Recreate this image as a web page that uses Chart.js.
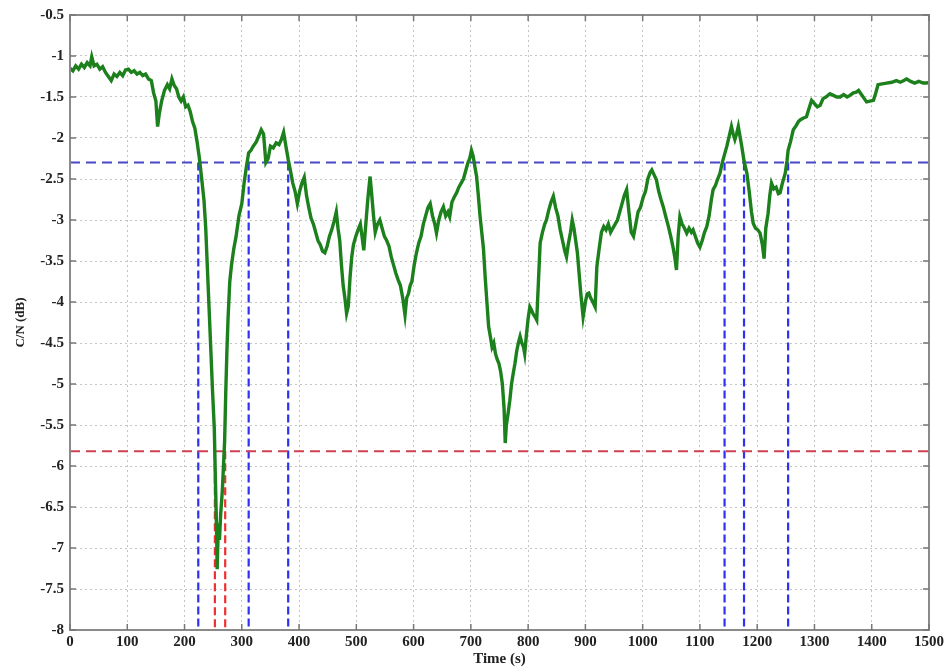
<!DOCTYPE html>
<html><head><meta charset="utf-8">
<script src="https://cdn.jsdelivr.net/npm/chart.js@4/dist/chart.umd.min.js"></script>
<style>html,body{margin:0;padding:0;background:#fff}#wrap{width:949px;height:668px;position:relative}</style>
</head><body><div id="wrap"><canvas id="c"></canvas></div>
<script>
const timeS = [0,5,10,15,20,25,30,35,38,42,47,52,57,62,67,72,77,82,87,92,97,102,107,112,117,122,127,132,137,142,146,150,153,156,160,165,170,174,178,182,186,190,194,198,202,206,210,214,218,222,226,230,234,237,240,243,246,249,252,254,256,257,259,261,263,266,268,270,272,274,276,279,282,286,290,295,300,304,308,312,316,320,325,330,334,338,342,346,350,355,360,365,369,373,377,381,385,389,393,397,401,405,409,413,417,421,425,429,433,437,441,445,449,453,457,461,465,468,471,474,477,480,483,486,489,492,495,499,503,507,510,513,516,520,524,527,530,533,537,541,545,549,553,557,561,565,569,573,577,581,585,588,591,594,597,601,605,609,613,617,621,625,629,633,637,640,644,648,652,656,660,663,667,671,675,679,683,687,691,695,698,701,704,707,710,713,716,719,722,725,728,731,734,737,740,743,746,749,752,755,758,760,762,765,768,771,774,777,780,783,786,789,792,794,797,800,803,806,809,812,815,818,821,825,829,832,836,840,844,848,852,856,860,864,867,870,874,877,880,883,886,889,892,896,900,903,906,909,913,917,920,924,928,932,936,940,944,948,952,956,960,964,968,972,976,980,984,988,992,996,1001,1005,1009,1013,1016,1020,1024,1028,1032,1036,1040,1045,1049,1053,1056,1059,1062,1065,1069,1073,1077,1081,1085,1088,1092,1096,1100,1104,1108,1112,1116,1120,1123,1127,1131,1135,1139,1143,1147,1151,1155,1158,1161,1164,1167,1170,1173,1177,1182,1186,1190,1193,1197,1201,1205,1209,1212,1215,1219,1222,1225,1229,1233,1237,1240,1244,1249,1252,1254,1258,1263,1268,1272,1275,1280,1286,1290,1295,1300,1305,1310,1315,1320,1327,1333,1339,1345,1351,1357,1362,1368,1373,1377,1382,1387,1391,1397,1403,1407,1411,1418,1426,1435,1443,1450,1456,1461,1468,1475,1482,1490,1496,1500];
const cnDb = [-1.15,-1.18,-1.12,-1.16,-1.10,-1.14,-1.08,-1.12,-1.01,-1.12,-1.10,-1.16,-1.13,-1.20,-1.25,-1.30,-1.22,-1.25,-1.20,-1.24,-1.17,-1.16,-1.20,-1.18,-1.22,-1.20,-1.24,-1.22,-1.28,-1.30,-1.45,-1.55,-1.86,-1.70,-1.55,-1.42,-1.35,-1.40,-1.28,-1.36,-1.40,-1.50,-1.55,-1.50,-1.62,-1.60,-1.68,-1.80,-1.88,-2.05,-2.25,-2.50,-2.76,-3.10,-3.60,-4.10,-4.60,-5.10,-5.55,-6.20,-6.80,-7.26,-6.70,-6.90,-6.60,-6.30,-6.00,-5.70,-5.10,-4.60,-4.20,-3.75,-3.55,-3.35,-3.20,-2.95,-2.80,-2.55,-2.35,-2.18,-2.15,-2.10,-2.05,-1.97,-1.90,-1.95,-2.30,-2.25,-2.10,-2.12,-2.06,-2.08,-2.02,-1.93,-2.10,-2.26,-2.40,-2.55,-2.65,-2.80,-2.65,-2.55,-2.48,-2.70,-2.85,-2.98,-3.05,-3.15,-3.25,-3.30,-3.38,-3.40,-3.32,-3.20,-3.12,-3.02,-2.90,-3.10,-3.25,-3.55,-3.80,-3.95,-4.14,-4.05,-3.70,-3.45,-3.30,-3.20,-3.12,-3.05,-3.20,-3.37,-3.10,-2.75,-2.47,-2.70,-2.95,-3.15,-3.05,-3.00,-3.10,-3.20,-3.25,-3.32,-3.45,-3.55,-3.65,-3.73,-3.80,-3.95,-4.16,-3.95,-3.90,-3.80,-3.75,-3.55,-3.40,-3.28,-3.20,-3.05,-2.95,-2.85,-2.80,-2.95,-3.05,-3.16,-3.00,-2.90,-2.84,-2.95,-2.90,-2.96,-2.78,-2.72,-2.67,-2.60,-2.55,-2.50,-2.40,-2.30,-2.25,-2.15,-2.22,-2.35,-2.47,-2.70,-2.95,-3.15,-3.35,-3.70,-4.00,-4.30,-4.42,-4.55,-4.50,-4.63,-4.70,-4.75,-4.85,-5.00,-5.30,-5.72,-5.50,-5.36,-5.20,-5.00,-4.87,-4.75,-4.60,-4.50,-4.42,-4.50,-4.55,-4.63,-4.40,-4.20,-4.06,-4.10,-4.15,-4.18,-4.22,-3.75,-3.28,-3.15,-3.05,-3.00,-2.88,-2.78,-2.71,-2.85,-2.95,-3.12,-3.25,-3.38,-3.45,-3.30,-3.15,-3.00,-3.10,-3.25,-3.40,-3.65,-3.90,-4.18,-4.00,-3.90,-3.89,-3.95,-4.00,-4.06,-3.57,-3.35,-3.15,-3.08,-3.12,-3.05,-3.15,-3.10,-3.05,-3.00,-2.90,-2.80,-2.70,-2.63,-2.90,-3.15,-3.20,-3.05,-2.90,-2.85,-2.72,-2.65,-2.50,-2.42,-2.39,-2.45,-2.51,-2.65,-2.75,-2.84,-2.95,-3.08,-3.20,-3.33,-3.45,-3.61,-3.20,-2.96,-3.05,-3.10,-3.16,-3.10,-3.15,-3.12,-3.20,-3.28,-3.33,-3.25,-3.15,-3.08,-2.95,-2.75,-2.63,-2.58,-2.50,-2.43,-2.30,-2.20,-2.10,-1.98,-1.86,-1.95,-2.02,-1.95,-1.86,-1.98,-2.10,-2.28,-2.43,-2.65,-2.90,-3.04,-3.10,-3.12,-3.16,-3.30,-3.47,-3.10,-2.92,-2.70,-2.55,-2.62,-2.60,-2.68,-2.67,-2.55,-2.43,-2.28,-2.15,-2.05,-1.90,-1.85,-1.80,-1.78,-1.76,-1.74,-1.65,-1.54,-1.58,-1.62,-1.60,-1.52,-1.50,-1.46,-1.48,-1.50,-1.50,-1.47,-1.50,-1.48,-1.45,-1.44,-1.42,-1.47,-1.52,-1.56,-1.55,-1.54,-1.45,-1.35,-1.34,-1.33,-1.32,-1.30,-1.32,-1.30,-1.28,-1.31,-1.33,-1.31,-1.33,-1.33,-1.32];
const blueThreshold = -2.3;
const redThreshold = -5.82;
const blueCrossings = [224, 312, 381, 1143, 1177, 1254];
const redCrossings = [253, 271];
const xRange = [0, 1500];
const yRange = [-8, -0.5];

const datasets = [];
datasets.push({data: [{x:xRange[0],y:blueThreshold},{x:xRange[1],y:blueThreshold}], borderColor:'#4848c8', borderWidth:2, borderDash:[10,6], pointRadius:0, order:2});
datasets.push({data: [{x:xRange[0],y:redThreshold},{x:xRange[1],y:redThreshold}], borderColor:'#d04050', borderWidth:2, borderDash:[10,6], pointRadius:0, order:2});
blueCrossings.forEach(t => datasets.push({data:[{x:t,y:blueThreshold},{x:t,y:yRange[0]}], borderColor:'#3030f0', borderWidth:2.2, borderDash:[8,4], pointRadius:0, order:3}));
redCrossings.forEach(t => datasets.push({data:[{x:t,y:redThreshold},{x:t,y:yRange[0]}], borderColor:'#f03030', borderWidth:2.2, borderDash:[8,4], pointRadius:0, order:3}));
datasets.push({data: timeS.map((t,i)=>({x:t,y:cnDb[i]})), borderColor:'#1c801c', borderWidth:3.4, pointRadius:0, tension:0, order:1});

const frame = {
  id:'frame',
  afterDatasetsDraw(chart){
    const {ctx, chartArea:a, scales} = chart;
    ctx.save();
    ctx.strokeStyle='#8a8a8a'; ctx.lineWidth=2;
    ctx.strokeRect(a.left, a.top, a.right-a.left, a.bottom-a.top);
    ctx.lineWidth=1.5; ctx.strokeStyle='#777';
    scales.x.ticks.forEach(tk=>{const px=scales.x.getPixelForValue(tk.value);
      ctx.beginPath();ctx.moveTo(px,a.bottom);ctx.lineTo(px,a.bottom-6);ctx.moveTo(px,a.top);ctx.lineTo(px,a.top+6);ctx.stroke();});
    scales.y.ticks.forEach(tk=>{const py=scales.y.getPixelForValue(tk.value);
      ctx.beginPath();ctx.moveTo(a.left,py);ctx.lineTo(a.left+6,py);ctx.moveTo(a.right,py);ctx.lineTo(a.right-6,py);ctx.stroke();});
    ctx.restore();
  }
};

const fontTick = {family:'"Liberation Serif", "DejaVu Serif", serif', size:15, weight:'bold'};
new Chart(document.getElementById('c'), {
  type:'line',
  data:{datasets},
  options:{
    responsive:true, maintainAspectRatio:false, animation:false,
    layout:{padding:{top:15,right:20,left:0,bottom:0}},
    plugins:{legend:{display:false}, tooltip:{enabled:false}},
    scales:{
      x:{type:'linear', min:xRange[0], max:xRange[1],
        ticks:{stepSize:100, color:'#222', font:fontTick, padding:3, maxRotation:0, callback:v=>String(v)},
        grid:{color:'#c4c4c4', lineWidth:1, drawTicks:false},
        border:{display:false, dash:[2,3]},
        title:{display:true, text:'Time (s)', color:'#222', font:{family:'"Liberation Serif", serif', size:15, weight:'bold'}, padding:{top:0,bottom:0}},
        afterFit(s){s.height=38;}
      },
      y:{type:'linear', min:yRange[0], max:yRange[1],
        ticks:{stepSize:0.5, color:'#222', font:fontTick, padding:6, callback:v=>String(Math.round(v*10)/10)},
        grid:{color:'#c4c4c4', lineWidth:1, drawTicks:false},
        border:{display:false, dash:[2,3]},
        title:{display:true, text:'C/N (dB)', color:'#222', font:{family:'"Liberation Serif", serif', size:13, weight:'bold'}, padding:{top:13,bottom:0}},
        afterFit(s){s.width=70;}
      }
    }
  },
  plugins:[frame]
});
</script></body></html>
